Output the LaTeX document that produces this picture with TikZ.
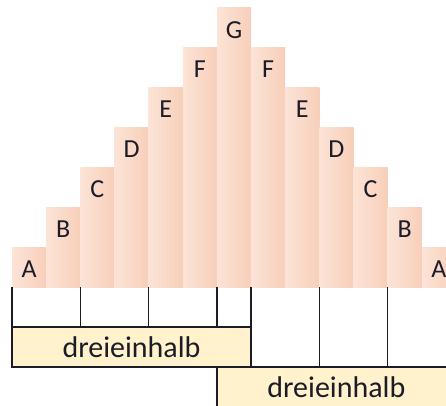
\documentclass[tikz,border=0pt]{standalone}
\usepackage{fontspec}
\setmainfont{Carlito}
\usepackage{tikz}
\definecolor{barmid}{RGB}{249,213,194}
\definecolor{barlight}{RGB}{252,229,216}
\definecolor{bardark}{RGB}{245,196,171}
\definecolor{halffill}{RGB}{255,242,204}
\definecolor{inkdark}{RGB}{28,28,40}
\pgfdeclarehorizontalshading{stepshade}{100bp}{color(0bp)=(barmid); color(22bp)=(barlight); color(100bp)=(bardark)}
\tikzset{
  tone/.style={shading=stepshade, draw=none},
  letter/.style={font=\fontsize{26}{26}\selectfont, text=inkdark, inner sep=0pt},
  halfbox/.style={draw=inkdark, line width=1.3pt, fill=halffill, minimum width=239pt,
    minimum height=40pt, inner sep=0pt, font=\fontsize{30}{30}\selectfont, text=inkdark},
  grid/.style={draw=inkdark, line width=1.3pt}
}
\begin{document}
\begin{tikzpicture}[x=1pt,y=-1pt]
\useasboundingbox (0,0) rectangle (446,405);
\clip (0,0) rectangle (446,405);
% steps
\shade[tone] (12,247) rectangle (46.15,287);
\shade[tone] (46.15,207) rectangle (80.3,287);
\shade[tone] (80.3,167) rectangle (114.45,287);
\shade[tone] (114.45,127) rectangle (148.6,287);
\shade[tone] (148.6,87) rectangle (182.75,287);
\shade[tone] (182.75,47) rectangle (216.9,287);
\shade[tone] (216.9,7) rectangle (251.05,287);
\shade[tone] (251.05,47) rectangle (285.2,287);
\shade[tone] (285.2,87) rectangle (319.35,287);
\shade[tone] (319.35,127) rectangle (353.5,287);
\shade[tone] (353.5,167) rectangle (387.65,287);
\shade[tone] (387.65,207) rectangle (421.8,287);
\shade[tone] (421.8,247) rectangle (455.95,287);
% letters
\node[letter] (a1) at (29.1,269.5) {A};
\node[letter] (b1) at (63.2,229.5) {B};
\node[letter] (c1) at (97.4,189.5) {C};
\node[letter] (d1) at (131.5,149.5) {D};
\node[letter] (e1) at (165.7,109.5) {E};
\node[letter] (f1) at (199.8,69.5) {F};
\node[letter] (g) at (234,30) {G};
\node[letter] (f2) at (268.1,69.5) {F};
\node[letter] (e2) at (302.3,109.5) {E};
\node[letter] (d2) at (336.4,149.5) {D};
\node[letter] (c2) at (370.6,189.5) {C};
\node[letter] (b2) at (404.7,229.5) {B};
\node[letter] (a2) at (438.9,269.5) {A};
% half bars
\node[halfbox] (half1) at (131.5,347) {dreieinhalb};
\node[halfbox] (half2) at (336.4,387) {dreieinhalb};
\draw[grid] (12,287) -- (12,327);
\draw[grid] (80.3,287) -- (80.3,327);
\draw[grid] (148.6,287) -- (148.6,327);
\draw[grid] (216.9,287) -- (216.9,327);
\draw[grid] (251.05,287) -- (251.05,327);
\draw[grid] (319.35,287) -- (319.35,367);
\draw[grid] (387.65,287) -- (387.65,367);
\end{tikzpicture}
\end{document}
